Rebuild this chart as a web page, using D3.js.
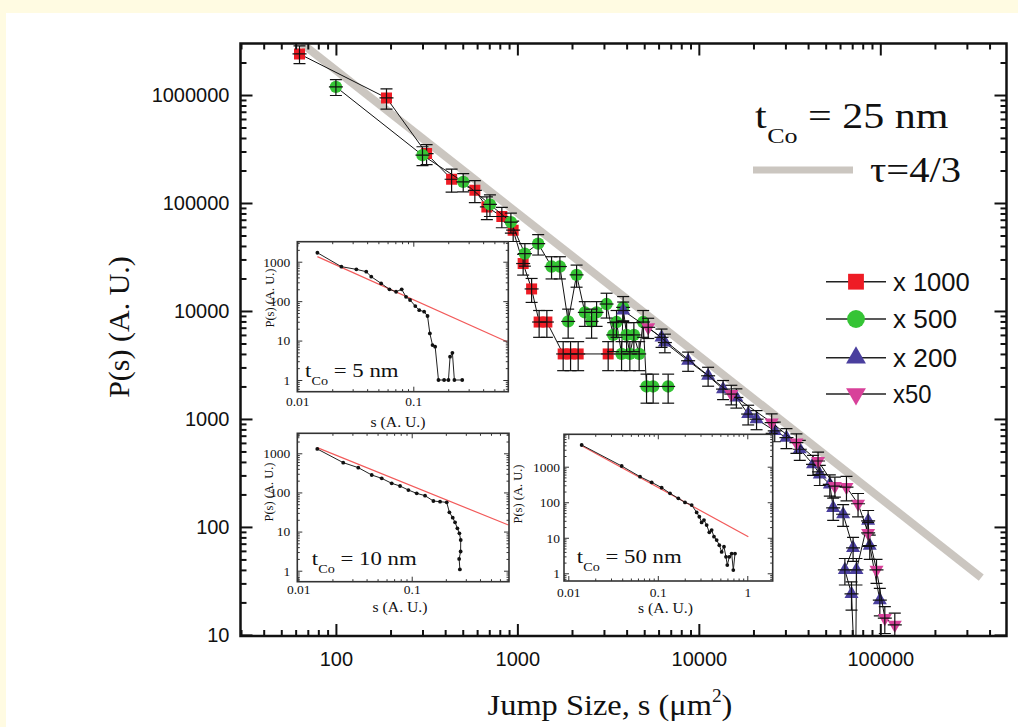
<!DOCTYPE html>
<html lang="en">
<head>
<meta charset="UTF-8">
<title>Jump size distribution</title>
<script src="https://d3js.org/d3.v7.min.js"></script>
<style>
  body { margin: 0; background: #fff; }
  svg { display: block; }
  .serif { font-family: 'Liberation Serif', 'Times New Roman', serif; }
  .sans { font-family: 'Liberation Sans', Arial, sans-serif; }
</style>
</head>
<body>
<svg width="1018" height="727"></svg>
<script>
// [s, P(s), error]
const red1000 = [
  [63, 2400000, 450000], [190, 940000, 200000], [316, 287000, 60000], [434, 166000, 40000],
  [583, 131000, 30000], [679, 92000, 22000], [821, 75000, 16000], [948, 56000, 12000],
  [1076, 27500, 6000], [1198, 16000, 4000], [1318, 7900, 2200], [1454, 7900, 2200],
  [1788, 4000, 1200], [1964, 4000, 1200], [2163, 4000, 1200], [3165, 4000, 1200]
];
const green500 = [
  [100, 1190000, 200000], [300, 277000, 55000], [503, 157000, 30000], [706, 97000, 22000],
  [921, 66600, 14000], [1100, 34000, 8000], [1302, 42000, 9000], [1543, 25800, 6000],
  [1715, 25800, 6000], [1905, 8000, 2400], [2120, 21600, 5000], [2354, 9700, 2500],
  [2564, 8000, 2400], [2732, 9700, 2500], [3101, 11600, 3000], [3372, 6000, 1800],
  [3520, 7900, 2200], [3751, 4000, 1200], [3828, 10800, 2800], [3998, 6000, 1800],
  [4167, 4000, 1200], [4385, 6000, 1800], [4690, 4000, 1200], [4933, 7900, 2200],
  [5150, 2000, 600], [5601, 2000, 600], [6775, 2000, 600]
];
const blue200 = [
  [3830, 10100, 2000], [6230, 5700, 1100], [6500, 5100, 1000], [8730, 3460, 700],
  [11250, 2510, 500], [13600, 1890, 380], [16100, 1580, 320], [18700, 1110, 230],
  [20800, 995, 200], [26200, 775, 160], [30400, 672, 140], [36000, 524, 110],
  [42600, 380, 80], [46400, 307, 65], [52700, 248, 55], [55000, 150, 35],
  [62400, 131, 30], [70800, 64, 16], [63800, 40, 11], [69400, 24, 7],
  [73000, 3, 0], [73900, 40, 11], [85700, 114, 28], [87500, 67, 17], [99400, 21, 6]
];
const pink50 = [
  [5260, 7060, 1500], [15100, 1700, 350], [25200, 926, 190], [34500, 604, 125],
  [45400, 408, 85], [56200, 239, 50], [65100, 234, 60], [75400, 164, 40],
  [85700, 88, 22], [95300, 40, 10], [105900, 14.3, 4], [120200, 12.4, 3.5]
];
const tauLine = [[65, 3000000], [360000, 34]];
const legendLabels = ["x 1000", "x 500", "x 200", "x50"];

const xMajor = [100, 1000, 10000, 100000];
const yMajor = [10, 100, 1000, 10000, 100000, 1000000];

// insets: [s, P]
const inset5Data = [
  [0.0149, 1690], [0.024, 748], [0.0323, 640], [0.0393, 558], [0.0434, 417], [0.0528, 282],
  [0.0623, 199], [0.071, 173], [0.0794, 199], [0.0865, 129], [0.0937, 107], [0.104, 75],
  [0.1125, 59], [0.124, 54], [0.1326, 42], [0.1389, 15.2], [0.1464, 7.7], [0.1543, 7],
  [0.1648, 1], [0.1843, 1], [0.2009, 1], [0.2075, 3.9], [0.2173, 4.9], [0.226, 1], [0.264, 1]
];
const inset5Fit = [[0.0149, 1343], [0.643, 9.34]];
const inset10Data = [
  [0.0147, 1291], [0.0249, 577], [0.0338, 430], [0.0444, 279], [0.0544, 229], [0.0666, 171],
  [0.0789, 146], [0.0935, 115], [0.1107, 94.8], [0.1311, 82.7], [0.1553, 60.4], [0.1778, 58],
  [0.2036, 55.8], [0.215, 31], [0.23, 22.6], [0.2412, 17.2], [0.2529, 12.1], [0.2634, 9.0],
  [0.2706, 6.1], [0.27, 3.1], [0.262, 2.0], [0.266, 1.08]
];
const inset10Fit = [[0.0147, 1396], [0.713, 14.7]];
const inset50Data = [
  [0.0141, 4085], [0.0395, 1046], [0.0633, 524], [0.0854, 363], [0.1105, 257], [0.1369, 178],
  [0.1696, 128.5], [0.2013, 99], [0.2389, 83.4], [0.2718, 51.8], [0.2911, 39.1], [0.309, 27.1],
  [0.328, 31.5], [0.3516, 22.8], [0.3765, 14.2], [0.3998, 16.5], [0.4246, 10.7], [0.4547, 8.6],
  [0.487, 6.2], [0.5171, 4.0], [0.549, 5.6], [0.578, 2.9], [0.598, 1.7], [0.63, 2.9],
  [0.669, 3.6], [0.698, 1.23], [0.729, 3.6]
];
const inset50Fit = [[0.0141, 3913], [1.027, 10.7]];
const insetXMajor = [0.01, 0.1, 1];
const insetYMajor = [1, 10, 100, 1000];

const svg = d3.select("svg");
svg.append("rect").attr("width", 1018).attr("height", 727).attr("fill", "#fffbe2");
svg.append("rect").attr("x", 6).attr("y", 13).attr("width", 1012).attr("height", 714).attr("fill", "#fff");

const x = d3.scaleLog().domain([29.8, 496000]).range([240.5, 1006.5]);
const y = d3.scaleLog().domain([9.77, 3.0e6]).range([636, 43.5]);

function minorsOf(dom) {
    const out = [];
    for (let d = Math.floor(Math.log10(dom[0])); d <= Math.ceil(Math.log10(dom[1])); d++) {
        for (let m = 2; m < 10; m++) {
            const v = +(m * Math.pow(10, d)).toPrecision(6);
            if (v > dom[0] && v < dom[1]) out.push(v);
        }
    }
    return out;
}

function frameAxes(g, xs, ys, c) {
    const [xl, xr] = xs.range(), [yb, yt] = ys.range();
    const inside = (s, arr) => arr.filter(v => v >= s.domain()[0] && v <= s.domain()[1]);
    const sides = [
        { fn: d3.axisBottom, s: xs, t: `translate(0,${yb})`, major: c.xMajor, lab: true, pad: c.xPad },
        { fn: d3.axisTop, s: xs, t: `translate(0,${yt})`, major: c.xMajor, lab: false, pad: 0 },
        { fn: d3.axisLeft, s: ys, t: `translate(${xl},0)`, major: c.yMajor, lab: true, pad: c.yPad },
        { fn: d3.axisRight, s: ys, t: `translate(${xr},0)`, major: c.yMajor, lab: false, pad: 0 }
    ];
    sides.forEach(function(d) {
        const minor = minorsOf(d.s.domain());
        const gm = g.append("g").attr("transform", d.t)
            .call(d.fn(d.s).tickValues(minor).tickSize(-c.minorLen).tickFormat(""));
        const gj = g.append("g").attr("transform", d.t)
            .call(d.fn(d.s).tickValues(inside(d.s, d.major)).tickSize(-c.majorLen).tickPadding(d.pad)
                .tickFormat(d.lab ? (v => String(v)) : ""));
        [gm, gj].forEach(function(a) {
            a.select(".domain").remove();
            a.attr("font-family", c.font).attr("font-size", c.fontSize);
            a.selectAll("line").attr("stroke", c.color).attr("stroke-width", c.tickWidth);
            a.selectAll("text").attr("fill", "#111");
        });
    });
    g.append("rect")
        .attr("x", xl).attr("y", yt).attr("width", xr - xl).attr("height", yb - yt)
        .attr("fill", "none").attr("stroke", c.color).attr("stroke-width", c.frameWidth);
}

// --- main plot data
svg.append("defs").append("clipPath").attr("id", "clipMain")
    .append("rect").attr("x", 240.5).attr("y", 43.5).attr("width", 766).attr("height", 592.5);
const plot = svg.append("g").attr("clip-path", "url(#clipMain)");

const line = d3.line().x(d => x(d[0])).y(d => y(d[1]));

plot.append("path").datum(tauLine).attr("d", line)
    .attr("fill", "none").attr("stroke", "#cbc6c0").attr("stroke-width", 8);

const series = [
    { data: red1000, color: "#ee1c25", type: d3.symbolSquare, size: 121, rot: 0 },
    { data: green500, color: "#35c435", type: d3.symbolCircle, size: 120, rot: 0 },
    { data: blue200, color: "#4a3f9e", type: d3.symbolTriangle, size: 85, rot: 0 },
    { data: pink50, color: "#d8419a", type: d3.symbolTriangle, size: 85, rot: 180 }
];

series.forEach(function(sr) {
    plot.append("path").datum(sr.data).attr("d", line)
        .attr("fill", "none").attr("stroke", "#111").attr("stroke-width", 1);

    plot.selectAll(null).data(sr.data).enter().append("path")
        .attr("d", d3.symbol().type(sr.type).size(sr.size))
        .attr("transform", d => `translate(${x(d[0])},${y(d[1])}) rotate(${sr.rot})`)
        .attr("fill", sr.color);

    const eb = plot.append("g").attr("stroke", "#111").attr("stroke-width", 1.2);
    sr.data.filter(d => d[2] > 0).forEach(function(d) {
        const cx = x(d[0]), cy = y(d[1]);
        const y1 = y(d[1] + d[2]), y2 = y(Math.max(d[1] - d[2], d[1] * 0.05));
        eb.append("line").attr("x1", cx).attr("x2", cx).attr("y1", y1).attr("y2", y2);
        eb.append("line").attr("x1", cx - 6).attr("x2", cx + 6).attr("y1", y1).attr("y2", y1);
        eb.append("line").attr("x1", cx - 6).attr("x2", cx + 6).attr("y1", y2).attr("y2", y2);
        eb.append("line").attr("x1", cx - 7).attr("x2", cx + 7).attr("y1", cy).attr("y2", cy);
    });
});

frameAxes(svg.append("g"), x, y, {
    xMajor: xMajor, yMajor: yMajor, majorLen: 12, minorLen: 6, tickWidth: 2,
    frameWidth: 2.5, color: "#111", font: "'Liberation Sans', Arial, sans-serif",
    fontSize: 20, xPad: 16, yPad: 11
});

// --- insets
function tco(parent, x0, yb, size, value, sx) {
    const g = parent.append("g").attr("class", "serif").attr("fill", "#111")
        .attr("transform", `translate(${x0},${yb}) scale(${sx},1)`);
    g.append("text").attr("font-size", size).text("t");
    g.append("text").attr("x", size * 0.29).attr("y", size * 0.42)
        .attr("font-size", size * 0.62).text("Co");
    g.append("text").attr("x", size * 0.29 + size * 0.62 * 1.167 + size * 0.25)
        .attr("font-size", size).text("= " + value + " nm");
}

function drawInset(c) {
    const xs = d3.scaleLog().domain(c.xDomain).range([c.left, c.right]);
    const ys = d3.scaleLog().domain(c.yDomain).range([c.bottom, c.top]);
    const g = svg.append("g");
    g.append("rect").attr("x", c.left).attr("y", c.top)
        .attr("width", c.right - c.left).attr("height", c.bottom - c.top).attr("fill", "#fff");
    const l = d3.line().x(d => xs(d[0])).y(d => ys(d[1]));
    g.append("path").datum(c.fit).attr("d", l)
        .attr("fill", "none").attr("stroke", "#f25a5a").attr("stroke-width", 1.2);
    g.append("path").datum(c.data).attr("d", l)
        .attr("fill", "none").attr("stroke", "#222").attr("stroke-width", 1);
    g.selectAll(null).data(c.data).enter().append("circle")
        .attr("cx", d => xs(d[0])).attr("cy", d => ys(d[1])).attr("r", 1.9).attr("fill", "#111");

    frameAxes(g, xs, ys, {
        xMajor: insetXMajor, yMajor: insetYMajor, majorLen: 5, minorLen: 2.5, tickWidth: 1,
        frameWidth: 1.6, color: "#333", font: "'Liberation Serif', 'Times New Roman', serif",
        fontSize: 13.5, xPad: c.xPad, yPad: c.yPad
    });

    g.append("text").attr("class", "serif").attr("font-size", 12.5).attr("fill", "#111")
        .attr("text-anchor", "middle")
        .attr("transform", `translate(${c.yLab[0]},${c.yLab[1]}) rotate(-90)`)
        .text("P(s) (A. U.)");
    g.append("text").attr("class", "serif").attr("font-size", 14).attr("fill", "#111")
        .attr("text-anchor", "middle").attr("x", c.xLab[0]).attr("y", c.xLab[1])
        .attr("textLength", 55).attr("lengthAdjust", "spacingAndGlyphs")
        .text("s (A. U.)");
    tco(g, c.tco[0], c.tco[1], 19, c.value, 1.2);
}

drawInset({
    data: inset5Data, fit: inset5Fit, value: 5,
    xDomain: [0.01, 0.659], yDomain: [0.505, 3218],
    left: 297.3, right: 508.3, top: 241.7, bottom: 391.7,
    xPad: 5, yPad: 7, yLab: [274, 298], xLab: [398, 427], tco: [305, 376.7]
});
drawInset({
    data: inset10Data, fit: inset10Fit, value: 10,
    xDomain: [0.0098, 0.721], yDomain: [0.524, 3243],
    left: 297.3, right: 509, top: 433.3, bottom: 581.7,
    xPad: 3, yPad: 7, yLab: [273, 492], xLab: [400, 612], tco: [311.7, 565]
});
drawInset({
    data: inset50Data, fit: inset50Fit, value: 50,
    xDomain: [0.00895, 1.923], yDomain: [0.607, 8166],
    left: 564, right: 772.7, top: 434.3, bottom: 581,
    xPad: 6, yPad: 4, yLab: [522, 494], xLab: [665.5, 613], tco: [576.7, 563.3]
});

// --- legend
const legendY = [281.7, 319, 357.7, 394];
const lg = svg.append("g");
series.forEach(function(sr, i) {
    const ly = legendY[i];
    lg.append("line").attr("x1", 826).attr("x2", 886).attr("y1", ly).attr("y2", ly)
        .attr("stroke", "#222").attr("stroke-width", 1.5);
    lg.append("path")
        .attr("d", d3.symbol().type(sr.type).size(sr.type === d3.symbolTriangle ? 170 : 250))
        .attr("transform", `translate(856,${ly}) rotate(${sr.rot})`)
        .attr("fill", sr.color);
    lg.append("text").attr("class", "sans").attr("font-size", 25).attr("fill", "#111")
        .attr("x", 893).attr("y", ly + 9)
        .attr("textLength", legendLabels[i].length * 12.8).attr("lengthAdjust", "spacingAndGlyphs")
        .text(legendLabels[i]);
});

// title and tau legend
tco(svg, 755, 128.3, 35, 25, 1.2);
svg.append("line").attr("x1", 753).attr("x2", 853).attr("y1", 170).attr("y2", 170)
    .attr("stroke", "#cbc6c0").attr("stroke-width", 7);
svg.append("text").attr("class", "serif").attr("font-size", 35).attr("fill", "#111")
    .attr("transform", "translate(870,181.7) scale(1.16,1)").text("\u03c4=4/3");

// axis titles
svg.append("text").attr("class", "serif").attr("font-size", 30).attr("fill", "#111")
    .attr("text-anchor", "middle")
    .attr("transform", "translate(129,327) rotate(-90)")
    .text("P(s) (A. U.)");
const xt = svg.append("text").attr("class", "serif").attr("font-size", 30).attr("fill", "#111")
    .attr("text-anchor", "middle")
    .attr("transform", "translate(610,715) scale(1.08,1)");
xt.append("tspan").text("Jump Size, s (\u03bcm");
xt.append("tspan").attr("font-size", 18).attr("dy", -13).text("2");
xt.append("tspan").attr("dy", 13).text(")");
</script>
</body>
</html>
